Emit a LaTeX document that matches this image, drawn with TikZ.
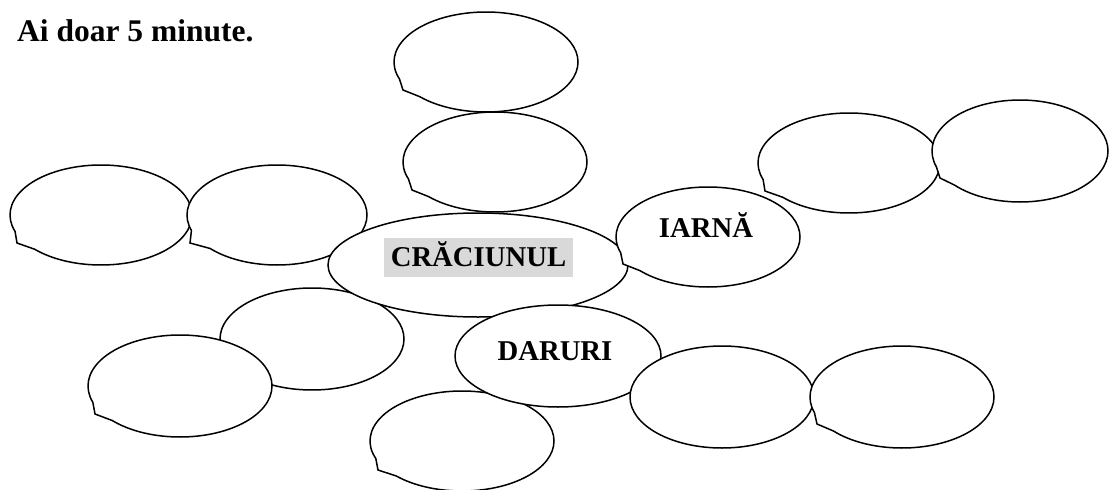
\documentclass[tikz,border=0pt]{standalone}
\usepackage{fontspec}
\setmainfont{Liberation Serif}
\usepackage{xcolor}
\definecolor{labelgray}{HTML}{D9D9D9}
\usetikzlibrary{shapes.geometric}
\usetikzlibrary{shapes.callouts}

\begin{document}
\begin{tikzpicture}[x=1pt, y=-1pt,
    bubble/.style={ellipse callout, draw, fill=white, line width=1.5pt,
      minimum width=184pt, minimum height=100pt, inner sep=0pt,
      callout pointer arc=24, callout absolute pointer={#1}},
    oval/.style={ellipse, draw, fill=white, line width=1.5pt, inner sep=0pt},
    word/.style={font=\fontsize{28.7}{30}\selectfont\bfseries, anchor=base, inner sep=0pt}]
  \useasboundingbox (0,0) rectangle (1109,490);

  \node[word, font=\fontsize{31.5}{33}\selectfont\bfseries, anchor=base west] (task) at (17,41) {Ai doar 5 minute.};

  % empty bubbles behind the centre
  \node[bubble={(403,90)}] (top1) at (486,62) {};
  \node[bubble={(412,190)}] (top2) at (495,162) {};
  \node[bubble={(17,243)}, minimum width=182pt] (left1) at (101,215) {};
  \node[bubble={(190,243)}, minimum width=180pt] (left2) at (277,215) {};
  \node[bubble={(229,368)}, minimum height=102pt] (low1) at (312,339) {};
  \node[bubble={(95,414)}, minimum height=102pt] (low2) at (180,386) {};

  % centre word
  \node[oval, minimum width=300pt, minimum height=104pt] (craciun) at (478,265) {};
  \node[word, fill=labelgray, inner xsep=6.5pt, text height=28pt, text depth=11pt] (craciuntext) at (478.5,266) {CRĂCIUNUL};

  \node[bubble={(623,264)}] (iarna) at (708,237) {};
  \node[word] (iarnatext) at (706,237) {IARNĂ};
  \node[bubble={(765,191)}, minimum width=182pt] (right1) at (849,163) {};
  \node[bubble={(940,178)}, minimum width=176pt, minimum height=102pt] (right2) at (1020,151) {};

  \node[bubble={(378,470)}] (bottom) at (462,441) {};
  \node[oval, minimum width=206pt, minimum height=102pt] (daruri) at (558,356) {};
  \node[word] (daruritext) at (555,360) {DARURI};
  \node[oval, minimum width=184pt, minimum height=102pt] (gift1) at (722,397) {};
  \node[bubble={(817,424)}, minimum height=102pt] (gift2) at (902,397) {};
\end{tikzpicture}
\end{document}
